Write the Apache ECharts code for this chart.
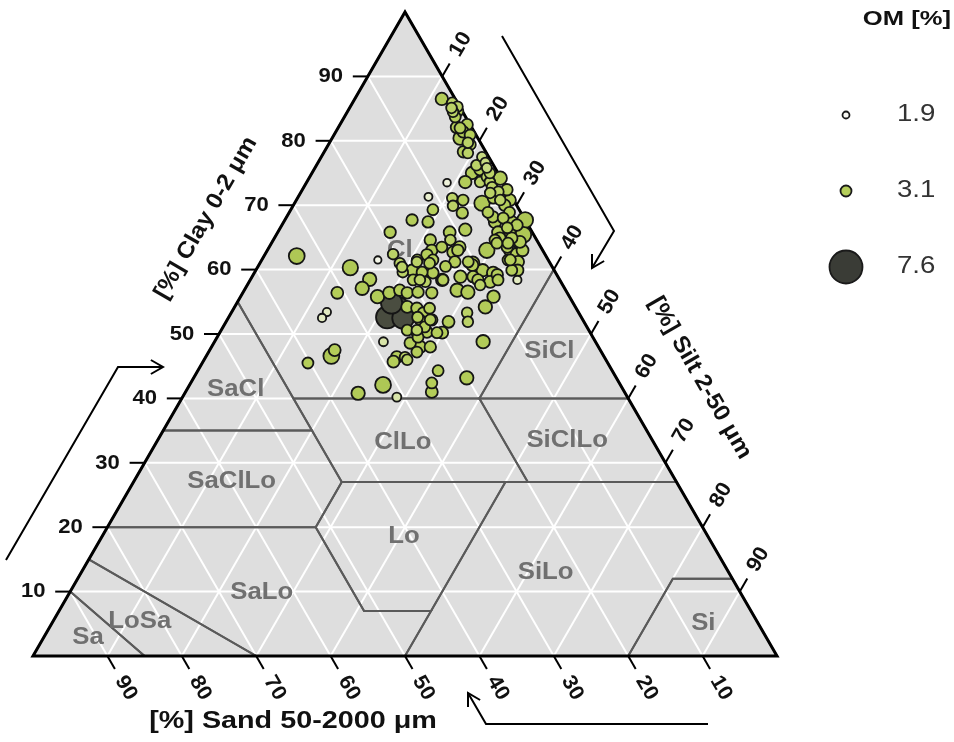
<!DOCTYPE html>
<html>
<head>
<meta charset="utf-8">
<script src="https://cdn.jsdelivr.net/npm/echarts@6/dist/echarts.min.js"></script>
<style>html,body{margin:0;padding:0;background:#fff}#chart{width:954px;height:742px}</style>
</head>
<body>
<div id="chart"></div>
<script>
// Soil samples: clay and silt content in percent (sand = 100 - clay - silt), organic matter in percent
const clayPct = [86.5,85.9,85.3,84.5,84.6,82.1,80.4,82.5,81.4,80.9,78.3,79.4,78.1,77.5,76.6,75.8,75.0,73.6,73.6,74.4,
  73.6,74.2,72.8,72.1,72.4,71.9,73.5,71.3,71.1,70.8,69.9,70.3,68.8,69.3,67.4,67.7,70.8,68.9,67.4,67.7,
  67.4,65.4,65.8,66.2,65.8,65.8,64.6,64.6,64.9,63.0,64.1,64.1,63.0,62.4,61.5,61.2,59.9,58.4,63.0,63.5,
  65.8,63.0,64.6,62.7,63.5,63.5,62.1,61.5,62.4,61.0,61.2,62.3,61.5,59.6,59.9,59.5,58.4,58.1,58.4,59.6,
  60.4,60.3,58.5,57.1,55.8,56.4,56.4,56.8,56.4,56.5,56.4,58.4,58.9,61.0,58.9,59.9,59.5,58.4,58.1,57.6,
  56.8,56.5,55.8,54.2,53.3,51.9,51.9,53.6,54.2,52.6,52.5,54.0,53.3,54.0,52.2,52.2,50.6,50.2,50.3,50.2,
  48.6,48.0,48.0,47.2,53.4,52.5,48.8,46.6,45.5,46.4,45.7,46.4,48.8,40.8,42.1,40.2,44.3,42.4,41.0,43.2,
  47.5,49.5,46.0,54.8,
  85.1,83.7,82.0,79.7,76.2,75.5,75.0,71.1,70.8,70.0,68.9,68.2,68.0,66.9,66.5,64.9,64.3,61.5,61.0,58.4,
  63.0,60.7,58.4,59.2,61.5,59.9,52.6,51.1,50.2,50.6,52.2,61.2,60.5,61.2];
const siltPct = [11.7,13.4,14.4,14.2,14.8,15.9,17.2,17.1,17.1,18.3,18.7,19.1,19.4,21.6,22.5,23.1,21.5,21.3,23.3,23.8,
  24.6,25.7,25.3,26.5,27.5,25.5,18.9,17.5,20.8,22.4,21.5,25.2,23.3,19.1,19.4,17.1,28.7,29.6,30.7,32.3,
  28.4,33.2,23.1,25.0,29.6,31.2,21.1,29.8,31.9,29.5,30.3,31.8,32.6,33.8,33.1,34.6,34.4,35.9,34.3,32.0,
  15.1,22.1,23.8,25.1,23.2,25.6,4.4,15.6,17.2,18.8,21.0,21.8,23.0,22.5,21.0,24.0,25.8,23.7,21.9,19.9,
  19.4,12.5,16.0,15.7,18.4,12.7,19.7,20.9,22.1,23.5,25.4,22.8,28.0,28.6,29.7,30.5,32.1,33.3,32.4,31.3,
  28.6,30.2,34.0,33.7,31.7,32.5,29.9,22.0,23.2,21.3,23.5,24.6,25.8,26.3,25.9,27.5,25.0,26.5,27.8,29.9,
  26.4,28.0,29.4,28.0,12.8,12.6,22.7,16.8,14.2,25.7,25.6,26.8,36.1,23.3,26.0,28.8,32.3,32.4,33.1,36.7,
  16.8,27.0,27.3,20.8,
  13.7,14.9,16.4,18.6,21.5,22.3,23.9,26.3,27.4,28.4,26.7,27.7,29.2,31.6,30.5,30.3,33.3,20.9,22.8,25.9,
  25.6,28.7,30.6,32.8,33.4,35.2,25.4,27.1,29.2,26.3,27.3,26.1,25.2,27.9];
const omPct = [3.4,3.0,3.0,3.0,3.1,3.3,3.6,3.2,3.2,3.1,3.2,3.0,3.0,2.8,2.8,2.8,3.4,3.4,3.0,3.0,
  3.0,3.6,3.0,3.0,3.2,3.0,2.1,2.2,3.0,3.1,3.0,4.0,3.2,3.1,3.2,3.2,3.3,3.1,3.2,4.1,
  3.4,4.1,3.3,3.4,3.3,3.2,3.2,3.1,3.2,4.0,3.1,3.1,3.3,3.3,3.1,3.3,3.1,2.3,3.3,3.2,
  3.2,3.2,3.0,3.2,3.1,3.3,4.1,2.0,3.0,3.0,3.0,3.2,3.1,3.1,3.2,3.2,3.4,3.0,3.1,3.0,
  3.0,4.0,3.6,3.6,3.6,3.3,3.4,3.2,3.2,3.2,3.2,3.0,3.4,3.6,3.2,3.4,3.4,3.1,3.3,3.0,
  3.6,3.6,3.4,3.6,3.0,3.0,3.3,6.8,3.3,5.4,5.3,3.2,3.1,3.1,3.1,3.2,3.1,3.1,3.2,3.3,
  3.2,3.4,3.2,3.1,2.3,2.3,2.5,4.1,3.1,3.3,3.3,3.0,3.6,3.6,4.1,2.5,3.1,3.1,3.3,3.6,
  3.3,3.1,3.0,5.2,
  3.0,3.1,3.1,3.0,3.0,3.1,3.0,3.1,3.0,3.2,3.1,3.2,3.1,3.2,3.1,3.2,3.3,3.1,3.1,3.1,
  3.2,3.3,3.2,3.2,3.1,3.2,3.1,3.1,3.1,3.0,3.1,3.2,3.1,3.1];

// Axis tick values (percent)
const tickValues = [10, 20, 30, 40, 50, 60, 70, 80, 90];

// USDA texture classes: polygon corners as [clay, silt]
const classNames = ['Sa', 'LoSa', 'SaLo', 'Lo', 'SiLo', 'Si', 'SaClLo', 'ClLo', 'SiClLo', 'SaCl', 'SiCl', 'Cl'];
const classVertices = [
  [[0,0],[0,15],[10,0]],
  [[10,0],[0,15],[0,30],[15,0]],
  [[15,0],[0,30],[0,50],[7,50],[7,41],[20,28],[20,0]],
  [[7,50],[7,41],[20,28],[27,28],[27,50]],
  [[0,50],[0,80],[12,80],[12,88],[27,73],[27,50],[7,50]],
  [[0,80],[0,100],[12,88],[12,80]],
  [[20,0],[20,28],[27,28],[35,20],[35,0]],
  [[27,28],[27,53],[40,40],[40,15]],
  [[27,53],[27,73],[40,60],[40,40]],
  [[35,0],[35,20],[55,0]],
  [[40,40],[40,60],[60,40]],
  [[55,0],[40,15],[40,40],[60,40],[100,0]]
];
const classLabelAt = [[2.8,6.0],[5.3,11.7],[9.9,25.8],[18.5,40.6],[13.0,62.4],[5.0,87.6],
  [27.0,13.2],[33.2,33.1],[33.4,55.1],[41.3,6.6],[47.2,45.8],[63.0,17.8]];

// Legend entries for organic matter
const legendValues = [1.9, 3.1, 7.6];

const H = Math.sqrt(3) / 2;
function toXY(clay, silt) { return [silt + clay / 2, clay * H]; }

function interp(stops, v) {
  if (v <= stops[0][0]) return stops[0][1];
  for (let i = 1; i < stops.length; i++) {
    if (v <= stops[i][0]) {
      const t = (v - stops[i - 1][0]) / (stops[i][0] - stops[i - 1][0]);
      const a = stops[i - 1][1], b = stops[i][1];
      return Array.isArray(a) ? a.map((x, k) => x + (b[k] - x) * t) : a + (b - a) * t;
    }
  }
  return stops[stops.length - 1][1];
}
const sizeStops = [[1.9, 7], [3.1, 11], [7.6, 33]];
const colorStops = [[1.9, [250,250,245]], [3.1, [181,206,90]], [4.4, [172,197,84]], [5.2, [74,77,64]], [7.6, [58,60,54]]];
function omSize(om) { return interp(sizeStops, om); }
function omColor(om) {
  const c = interp(colorStops, om).map(Math.round);
  return 'rgb(' + c.join(',') + ')';
}

const FONT = 'Arial, "Liberation Sans", sans-serif';

function textEl(x, y, text, rot, font, fill, sx, align) {
  return { type: 'text', x: x, y: y, rotation: rot || 0, scaleX: sx || 1,
    style: { text: text, x: 0, y: 0, font: font, fill: fill,
      align: align || 'center', verticalAlign: 'middle' } };
}
function lineEl(a, b, stroke, w) {
  return { type: 'line', shape: { x1: a[0], y1: a[1], x2: b[0], y2: b[1] }, style: { stroke: stroke, lineWidth: w } };
}

function renderFrame(params, api) {
  const P = (c, s) => api.coord(toXY(c, s));
  const kids = [];
  const corners = [P(0, 0), P(0, 100), P(100, 0)];
  kids.push({ type: 'polygon', shape: { points: corners }, style: { fill: '#dedede' } });
  tickValues.forEach(v => {
    kids.push(lineEl(P(v, 0), P(v, 100 - v), '#ffffff', 2));
    kids.push(lineEl(P(0, v), P(100 - v, v), '#ffffff', 2));
    kids.push(lineEl(P(0, 100 - v), P(100 - v, 0), '#ffffff', 2));
  });
  classVertices.forEach(vs => {
    kids.push({ type: 'polygon', shape: { points: vs.map(p => P(p[0], p[1])) },
      style: { fill: 'none', stroke: '#5a5a5a', lineWidth: 2 } });
  });
  classNames.forEach((n, i) => {
    const q = P(classLabelAt[i][0], classLabelAt[i][1]);
    kids.push(textEl(q[0], q[1], n, 0, 'bold 23px ' + FONT, '#707070', 1.12));
  });
  kids.push({ type: 'polygon', shape: { points: corners },
    style: { fill: 'none', stroke: '#000', lineWidth: 3, lineJoin: 'miter' } });
  const tick = (q, d, v, rot) => {
    kids.push(lineEl(q, [q[0] + 15 * d[0], q[1] + 15 * d[1]], '#000', 2));
    kids.push(textEl(q[0] + 37 * d[0], q[1] + 37 * d[1], String(v), rot, 'bold 21px ' + FONT, '#111', 1.05));
  };
  tickValues.forEach(v => {
    tick(P(v, 0), [-1, 0], v, 0);                    // clay, left edge
    tick(P(100 - v, v), [0.5, -H], v, Math.PI / 3);  // silt, right edge
    tick(P(0, 100 - v), [0.5, H], v, -Math.PI / 3);  // sand, base
  });
  return { type: 'group', children: kids };
}

const samples = clayPct.map((c, i) => {
  const xy = toXY(c, siltPct[i]);
  return [xy[0], xy[1], omPct[i]];
}).sort((a, b) => b[2] - a[2]);

function arrow(points, tip, back) {
  // open chevron head at tip; back is the unit vector pointing back along the shaft
  const L = 14, c = Math.cos(Math.PI / 6), s = Math.sin(Math.PI / 6);
  const r1 = [back[0] * c - back[1] * s, back[0] * s + back[1] * c];
  const r2 = [back[0] * c + back[1] * s, -back[0] * s + back[1] * c];
  return [
    { type: 'polyline', shape: { points: points }, style: { stroke: '#000', lineWidth: 2, fill: 'none' } },
    { type: 'polyline', shape: { points: [[tip[0] + L * r1[0], tip[1] + L * r1[1]], tip, [tip[0] + L * r2[0], tip[1] + L * r2[1]]] },
      style: { stroke: '#000', lineWidth: 2, fill: 'none' } }
  ];
}

const graphics = [];
const titleFont = 'bold 23px ' + FONT;
graphics.push(textEl(206, 218, '[%] Clay 0-2 μm', Math.PI / 3, titleFont, '#111', 1.07));
graphics.push(textEl(700, 378, '[%] Silt 2-50 μm', -Math.PI / 3, titleFont, '#111', 1.07));
graphics.push(textEl(293, 722, '[%] Sand 50-2000 μm', 0, titleFont, '#111', 1.25));
graphics.push(...arrow([[6, 560], [118, 367], [163, 367]], [163, 367], [-1, 0]));
graphics.push(...arrow([[502, 36], [614, 231], [592, 268]], [592, 268], [0.5, -H]));
graphics.push(...arrow([[708, 724], [486, 724], [468, 693]], [468, 693], [0.5, H]));

graphics.push(textEl(951, 19, 'OM [%]', 0, 'bold 20px ' + FONT, '#111', 1.28, 'right'));
const legendY = [115, 191, 267];
legendValues.forEach((v, i) => {
  graphics.push({ type: 'circle', shape: { cx: 846, cy: legendY[i], r: omSize(v) / 2 },
    style: { fill: omColor(v), stroke: '#1a1a1a', lineWidth: 1.8 } });
  graphics.push(textEl(897, legendY[i], v.toFixed(1), 0, '23px ' + FONT, '#333', 1.2, 'left'));
});

const chart = echarts.init(document.getElementById('chart'), null, { renderer: 'canvas' });
chart.setOption({
  animation: false,
  backgroundColor: '#ffffff',
  grid: { left: 33, right: 177, top: 12, bottom: 86 },
  xAxis: { type: 'value', min: 0, max: 100, show: false },
  yAxis: { type: 'value', min: 0, max: 100 * H, show: false },
  series: [
    { type: 'custom', renderItem: renderFrame, data: [[50, 40]], z: 1, silent: true, clip: false },
    { type: 'scatter', data: samples, z: 3, symbol: 'circle',
      symbolSize: v => omSize(v[2]),
      itemStyle: { color: p => omColor(p.value[2]), borderColor: '#151515', borderWidth: 1.8, opacity: 1 } }
  ],
  graphic: graphics
});
</script>
</body>
</html>
